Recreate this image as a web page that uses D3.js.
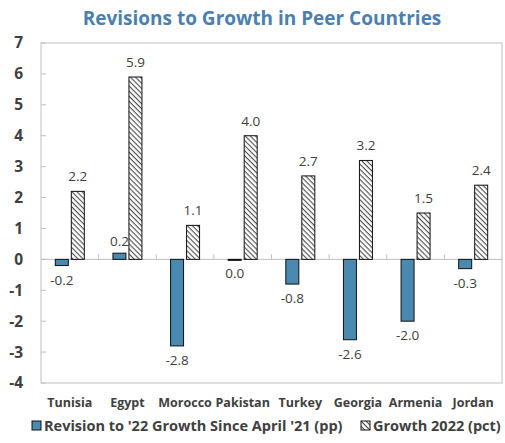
<!DOCTYPE html>
<html>
<head>
<meta charset="utf-8">
<script src="https://cdn.jsdelivr.net/npm/d3@7"></script>
<style>
  body { margin: 0; background: #fff; }
  text { font-family: "Open Sans", "Noto Sans", sans-serif; }
</style>
</head>
<body>
<svg id="chart" width="505" height="443"></svg>
<script>
const countries = ['Tunisia', 'Egypt', 'Morocco', 'Pakistan', 'Turkey', 'Georgia', 'Armenia', 'Jordan']
const revision = [-0.2, 0.2, -2.8, 0.0, -0.8, -2.6, -2.0, -0.3]
const growth = [2.2, 5.9, 1.1, 4.0, 2.7, 3.2, 1.5, 2.4]
const yTicks = [-4, -3, -2, -1, 0, 1, 2, 3, 4, 5, 6, 7]
const seriesNames = ["Revision to '22 Growth Since April '21 (pp)", 'Growth 2022 (pct)']

const MARGINS = { top: 43, right: 3, bottom: 60, left: 41 }
const BLUE = '#4a89b0'
const TEXT = '#404040'

const svg = d3.select('#chart')
const width = +svg.attr('width') - MARGINS.left - MARGINS.right
const height = +svg.attr('height') - MARGINS.top - MARGINS.bottom

const defs = svg.append('defs')
const pat = defs.append('pattern')
  .attr('id', 'hatch')
  .attr('patternUnits', 'userSpaceOnUse')
  .attr('width', 3.6).attr('height', 3.6)
  .attr('patternTransform', 'rotate(45)')
pat.append('rect').attr('width', 3.6).attr('height', 3.6).attr('fill', '#fff')
pat.append('line').attr('x1', 0).attr('y1', 0).attr('x2', 3.6).attr('y2', 0)
  .attr('stroke', '#4d4d4d').attr('stroke-width', 2.2)

svg.append('text')
  .attr('x', 262).attr('y', 25)
  .attr('text-anchor', 'middle')
  .attr('font-size', 19).attr('font-weight', 'bold')
  .attr('fill', '#4a7fb0')
  .text('Revisions to Growth in Peer Countries')

const g = svg.append('g').attr('transform', 'translate(' + MARGINS.left + ',' + MARGINS.top + ')')

const x = d3.scaleBand().domain(countries).range([0, width])
const y = d3.scaleLinear().domain([-4, 7]).range([height, 0])

// plot frame
g.append('rect')
  .attr('width', width).attr('height', height)
  .attr('fill', 'none').attr('stroke', '#bfbfbf')

// y axis ticks (inward) and labels
g.selectAll('.ytick').data(yTicks).enter().append('line')
  .attr('x1', 0).attr('x2', 5)
  .attr('y1', d => y(d)).attr('y2', d => y(d))
  .attr('stroke', '#bfbfbf')
g.selectAll('.ylab').data(yTicks).enter().append('text')
  .attr('x', -18).attr('y', d => y(d))
  .attr('dy', '0.35em')
  .attr('text-anchor', 'end')
  .attr('font-size', 15.5).attr('font-weight', 'bold')
  .attr('fill', TEXT)
  .text(d => d)

// zero line and category ticks
g.append('line')
  .attr('x1', 0).attr('x2', width)
  .attr('y1', y(0)).attr('y2', y(0))
  .attr('stroke', '#bfbfbf')
g.selectAll('.ctick').data(countries.slice(1)).enter().append('line')
  .attr('x1', d => x(d)).attr('x2', d => x(d))
  .attr('y1', y(0)).attr('y2', y(0) - 5)
  .attr('stroke', '#bfbfbf')

const bw = 13
const gap = 3

// revision bars
g.selectAll('.rev').data(countries).enter().append('rect')
  .attr('x', d => x(d) + x.bandwidth() / 2 - gap / 2 - bw)
  .attr('y', (d, i) => y(Math.max(0, revision[i])))
  .attr('width', bw)
  .attr('height', (d, i) => Math.max(1, Math.abs(y(revision[i]) - y(0))))
  .attr('fill', BLUE).attr('stroke', '#111').attr('stroke-width', 1)

// growth bars
g.selectAll('.gr').data(countries).enter().append('rect')
  .attr('x', d => x(d) + x.bandwidth() / 2 + gap / 2)
  .attr('y', (d, i) => y(growth[i]))
  .attr('width', bw)
  .attr('height', (d, i) => y(0) - y(growth[i]))
  .attr('fill', 'url(#hatch)').attr('stroke', '#111').attr('stroke-width', 1)

// labels
g.selectAll('.revlab').data(countries).enter().append('text')
  .attr('x', d => x(d) + x.bandwidth() / 2 - gap / 2 - bw / 2)
  .attr('y', (d, i) => revision[i] > 0 ? y(revision[i]) - 7 : y(revision[i]) + 19)
  .attr('text-anchor', 'middle')
  .attr('font-size', 13.5).attr('fill', TEXT)
  .text((d, i) => revision[i].toFixed(1))
g.selectAll('.grlab').data(countries).enter().append('text')
  .attr('x', d => x(d) + x.bandwidth() / 2 + gap / 2 + bw / 2)
  .attr('y', (d, i) => y(growth[i]) - 10)
  .attr('text-anchor', 'middle')
  .attr('font-size', 13.5).attr('fill', TEXT)
  .text((d, i) => growth[i].toFixed(1))

// category labels
g.selectAll('.xlab').data(countries).enter().append('text')
  .attr('x', d => x(d) + x.bandwidth() / 2)
  .attr('y', height + 24)
  .attr('text-anchor', 'middle')
  .attr('font-size', 12.5).attr('font-weight', 'bold')
  .attr('fill', TEXT)
  .text(d => d)

// legend
const leg = svg.append('g').attr('transform', 'translate(0,431)')
const items = [
  { name: seriesNames[0], fill: BLUE, x: 32 },
  { name: seriesNames[1], fill: 'url(#hatch)', x: 361 }
]
items.forEach(it => {
  leg.append('rect')
    .attr('x', it.x).attr('y', -10)
    .attr('width', 9).attr('height', 9)
    .attr('fill', it.fill).attr('stroke', '#111')
  leg.append('text')
    .attr('x', it.x + 12).attr('y', 0)
    .attr('font-size', 14.5).attr('font-weight', 'bold')
    .attr('fill', TEXT)
    .text(it.name)
})
</script>
</body>
</html>
